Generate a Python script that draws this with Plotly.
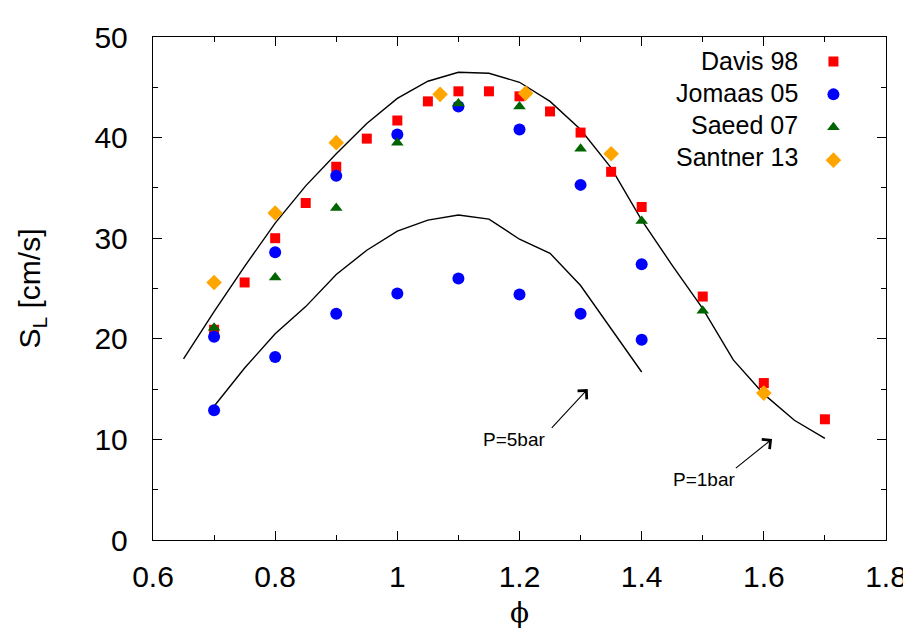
import plotly.graph_objects as go

# ---- data ----
davis_phi = [0.7, 0.75, 0.8, 0.85, 0.9, 0.95, 1.0, 1.05, 1.1, 1.15, 1.2, 1.25, 1.3, 1.35, 1.4, 1.5, 1.6, 1.7]
davis_sl = [20.9, 25.6, 30.0, 33.5, 37.1, 39.9, 41.7, 43.6, 44.6, 44.6, 44.1, 42.6, 40.5, 36.6, 33.1, 24.2, 15.6, 12.0]

jomaas_phi = [0.7, 0.8, 0.9, 1.0, 1.1, 1.2, 1.3, 1.4, None, 0.7, 0.8, 0.9, 1.0, 1.1, 1.2, 1.3, 1.4]
jomaas_sl = [20.2, 28.6, 36.2, 40.3, 43.1, 40.8, 35.3, 27.4, None, 12.9, 18.2, 22.5, 24.5, 26.0, 24.4, 22.5, 19.9]

saeed_phi = [0.7, 0.8, 0.9, 1.0, 1.1, 1.2, 1.3, 1.4, 1.5]
saeed_sl = [21.1, 26.1, 33.0, 39.5, 43.4, 43.1, 38.9, 31.7, 22.8]

santner_phi = [0.7, 0.8, 0.9, 1.07, 1.21, 1.35, 1.6]
santner_sl = [25.6, 32.5, 39.5, 44.3, 44.4, 38.4, 14.6]

sim1_phi = [0.65, 0.7, 0.75, 0.8, 0.85, 0.9, 0.95, 1.0, 1.05, 1.1, 1.15, 1.2, 1.25, 1.3, 1.35, 1.4, 1.45, 1.5, 1.55, 1.6, 1.65, 1.7]
sim1_sl = [18.0, 22.7, 27.2, 31.5, 35.2, 38.4, 41.4, 43.9, 45.6, 46.5, 46.4, 45.5, 43.6, 40.8, 37.0, 31.8, 27.3, 23.0, 17.9, 14.5, 11.9, 10.1]

sim5_phi = [0.7, 0.75, 0.8, 0.85, 0.9, 0.95, 1.0, 1.05, 1.1, 1.15, 1.2, 1.25, 1.3, 1.35, 1.4]
sim5_sl = [13.3, 17.1, 20.5, 23.2, 26.4, 28.8, 30.7, 31.8, 32.3, 31.9, 29.9, 28.5, 25.3, 21.0, 16.7]

legend_names = ["Davis 98", "Jomaas 05", "Saeed 07", "Santner 13"]
legend_label_y = [47.6, 44.4, 41.3, 38.1]
x_ticks = [0.6, 0.8, 1.0, 1.2, 1.4, 1.6, 1.8]
x_tick_text = ["0.6", "0.8", "1", "1.2", "1.4", "1.6", "1.8"]
y_ticks = [0, 10, 20, 30, 40, 50]

FONT = "Liberation Sans, Arial, sans-serif"

fig = go.Figure()
fig.add_trace(go.Scatter(x=sim1_phi, y=sim1_sl, mode="lines", line=dict(color="black", width=1.4), showlegend=False))
fig.add_trace(go.Scatter(x=sim5_phi, y=sim5_sl, mode="lines", line=dict(color="black", width=1.4), showlegend=False))

fig.add_trace(go.Scatter(x=davis_phi, y=davis_sl, mode="markers", name=" ",
                         marker=dict(symbol="square", size=10, color="#ff0000")))
fig.add_trace(go.Scatter(x=jomaas_phi, y=jomaas_sl, mode="markers", name=" ",
                         marker=dict(symbol="circle", size=12, color="#0000ff")))
fig.add_trace(go.Scatter(x=saeed_phi, y=saeed_sl, mode="markers", name=" ",
                         marker=dict(symbol="triangle-up", size=11, color="#006400")))
fig.add_trace(go.Scatter(x=santner_phi, y=santner_sl, mode="markers", name=" ",
                         marker=dict(symbol="diamond", size=12, color="#ffa500")))

# legend labels: right-aligned text, legend symbols sit to their right
for name, yv in zip(legend_names, legend_label_y):
    fig.add_annotation(x=0.883, xref="paper", y=yv, yref="y", text=name, showarrow=False,
                       xanchor="right", yanchor="middle", font=dict(family=FONT, size=25, color="black"))

# pressure annotations
fig.add_annotation(x=1.3117, y=15.0, ax=1.2505, ay=11.0, axref="x", ayref="y", xref="x", yref="y",
                   text="", showarrow=True, arrowhead=4, arrowsize=2.2, arrowwidth=1.1, arrowcolor="black")
fig.add_annotation(x=1.1905, y=10.03, text="P=5bar", showarrow=False,
                   font=dict(family=FONT, size=19, color="black"))
fig.add_annotation(x=1.6135, y=10.03, ax=1.5517, ay=7.03, axref="x", ayref="y", xref="x", yref="y",
                   text="", showarrow=True, arrowhead=4, arrowsize=2.2, arrowwidth=1.1, arrowcolor="black")
fig.add_annotation(x=1.5026, y=6.05, text="P=1bar", showarrow=False,
                   font=dict(family=FONT, size=19, color="black"))

axis_common = dict(showgrid=False, zeroline=False, showline=True, linecolor="black", linewidth=1.4,
                   mirror="allticks", ticks="inside", ticklen=9, tickwidth=1.2, tickcolor="black",
                   tickfont=dict(family=FONT, size=30, color="black"))

fig.update_xaxes(range=[0.6, 1.8], tickvals=x_ticks, ticktext=x_tick_text,
                 minor=dict(dtick=0.1, ticklen=5, tickcolor="black", ticks="inside", tickwidth=1),
                 title=dict(text="ϕ", font=dict(family="DejaVu Serif, serif", size=28, color="black"), standoff=10),
                 ticklabelstandoff=10, **axis_common)
fig.update_yaxes(range=[0, 50], tickvals=y_ticks,
                 minor=dict(dtick=5, ticklen=5, tickcolor="black", ticks="inside", tickwidth=1),
                 title=dict(text="S<sub>L</sub> [cm/s]", font=dict(family=FONT, size=30, color="black"), standoff=44),
                 ticklabelstandoff=18, **axis_common)

fig.update_layout(
    width=911, height=631,
    margin=dict(l=145, r=30, t=20, b=99),
    plot_bgcolor="white", paper_bgcolor="white",
    showlegend=True,
    legend=dict(x=0.901, xanchor="left", y=0.994, yanchor="top", bgcolor="rgba(0,0,0,0)",
                font=dict(family=FONT, size=23), itemwidth=30, tracegroupgap=0),
)

fig.write_html("out.html")
